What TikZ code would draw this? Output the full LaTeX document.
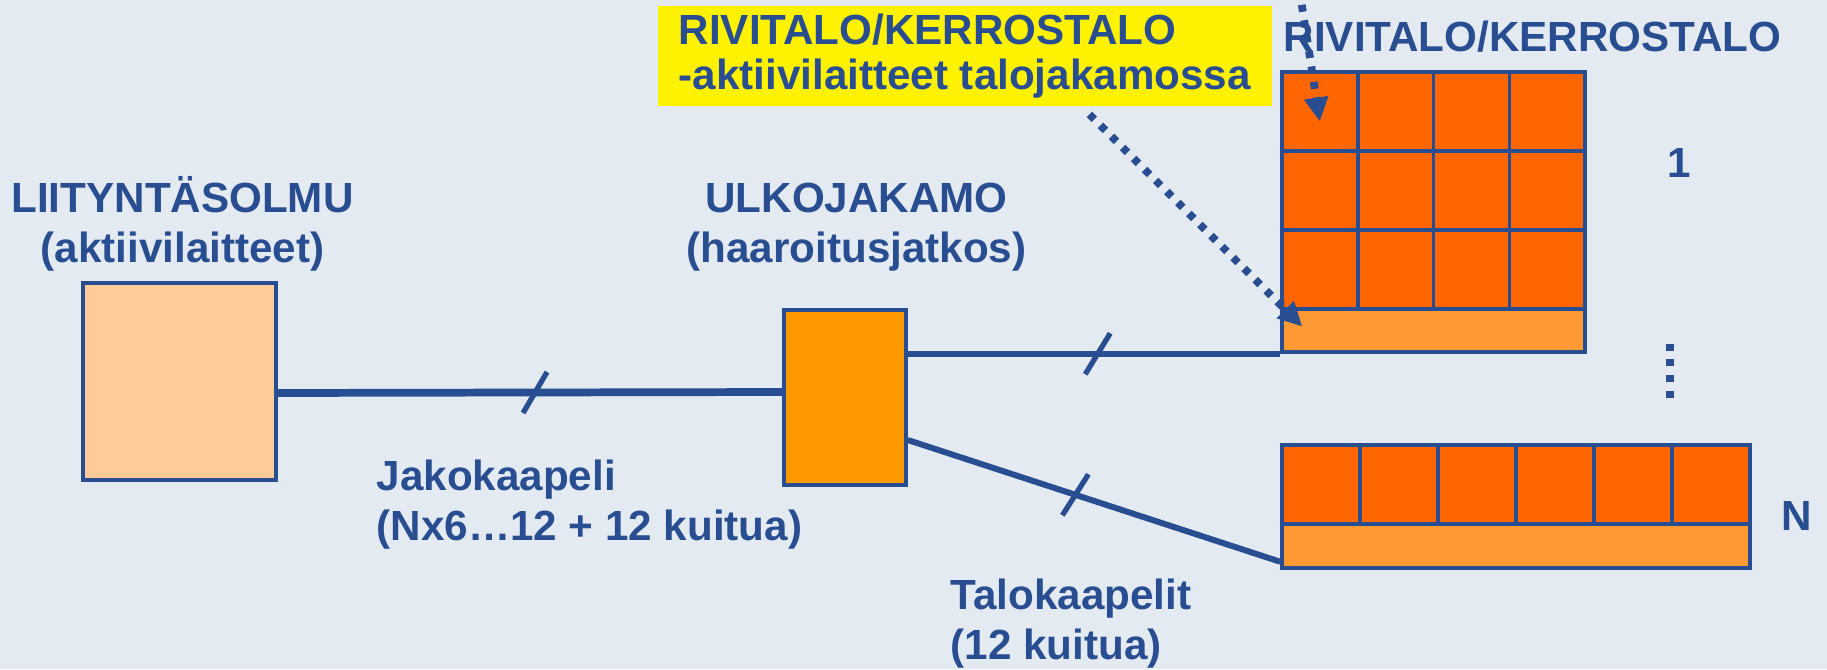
\documentclass[tikz,border=0pt]{standalone}
\usepackage{fontspec}
\setmainfont{Liberation Sans}
\usetikzlibrary{arrows.meta}

\definecolor{paper}{RGB}{227,234,241}
\definecolor{ink}{RGB}{41,77,145}
\definecolor{peach}{RGB}{255,204,153}
\definecolor{amber}{RGB}{255,153,0}
\definecolor{flat}{RGB}{255,102,0}
\definecolor{base}{RGB}{255,153,51}

\begin{document}
\begin{tikzpicture}[font=\fontsize{12}{14}\selectfont\bfseries, text=ink,
  box/.style={draw=ink, line width=1pt, inner sep=0pt},
  cell/.style={box, fill=flat, minimum height=0.79cm},
  floor/.style={box, fill=base},
  cable/.style={draw=ink, line width=1.7pt},
  cut/.style={draw=ink, line width=1.5pt},
  pointer/.style={draw=ink, line width=2.2pt, dash pattern=on 0.07cm off 0.086cm,
    -{Triangle[length=0.24cm, width=0.23cm]}},
  label/.style={inner sep=0pt}]

\path [use as bounding box, fill=paper] (0,0) rectangle (18.27,6.69);
\clip (0,0) rectangle (18.27,6.69);

\node [box, fill=peach, minimum width=1.93cm, minimum height=1.97cm] (access) at (1.795,2.875) {};
\node [box, fill=amber, minimum width=1.22cm, minimum height=1.75cm] (split) at (8.45,2.715) {};

\foreach \r in {1,2,3}
  \foreach \c in {1,...,4}
    \node [cell, minimum width=0.7575cm] (a\r\c) at ({12.82+(\c-0.5)*0.7575},{5.97-(\r-0.5)*0.79}) {};
\node [floor, minimum width=3.03cm, minimum height=0.43cm] (abar) at (14.335,3.385) {};

\foreach \c in {1,...,6}
  \node [cell, minimum width=0.78cm] (n\c) at ({12.82+(\c-0.5)*0.78},1.845) {};
\node [floor, minimum width=4.68cm, minimum height=0.44cm] (nbar) at (15.16,1.23) {};

\node [label, anchor=base, align=center] (accesstitle) at (1.825,4.07) {LIITYNTÄSOLMU\\(aktiivilaitteet)};
\node [label, anchor=base, align=center] (splittitle) at (8.565,4.07) {ULKOJAKAMO\\(haaroitusjatkos)};
\node [label, anchor=base west, align=left] (feeder) at (3.76,1.29) {Jakokaapeli\\(Nx6…12 + 12 kuitua)};
\node [label, anchor=base west, align=left] (drop) at (9.50,0.10) {Talokaapelit\\(12 kuitua)};
\node [label, anchor=base west] (house) at (12.83,6.17) {RIVITALO/KERROSTALO};
\node [label, anchor=base] (one) at (16.79,4.92) {1};
\node [label, anchor=base] (many) at (17.97,1.39) {N};

\node [fill=yellow, anchor=north west, inner sep=0pt, minimum width=6.14cm, minimum height=1.0cm,
  align=left, font=\fontsize{12}{12.8}\selectfont\bfseries] (note) at (6.57,6.64)
  {RIVITALO/KERROSTALO\\-aktiivilaitteet talojakamossa};

\draw [cable, line width=2.2pt] ([yshift=-0.115cm]access.east) -- coordinate[pos=0.51] (cut1) ([yshift=0.055cm]split.west);
\draw [cable] (split.east |- abar.south) -- coordinate[pos=0.51] (cut2) (abar.south west);
\draw [cable] ([yshift=-0.425cm]split.east) -- coordinate[pos=0.45] (cut3) ([yshift=0.08cm]nbar.south west);

\draw [cut] (cut1) ++(0.12,0.205) -- ++(-0.24,-0.41);
\draw [cut] (cut2) ++(0.125,0.205) -- ++(-0.25,-0.41);
\draw [cut] (cut3) ++(0.13,0.205) -- ++(-0.26,-0.41);

\coordinate (sky) at (12.97,6.95);
\draw [pointer] (sky) -- ([yshift=-0.1cm]a11.center);
\draw [pointer] ([xshift=-1.83cm,yshift=-0.08cm]note.south east) -- ([xshift=0.22cm,yshift=0.04cm]abar.west);

\draw [ink, line width=0.08cm, dash pattern=on 0.07cm off 0.087cm] (16.70,3.255) -- (16.70,2.714);

\end{tikzpicture}
\end{document}
